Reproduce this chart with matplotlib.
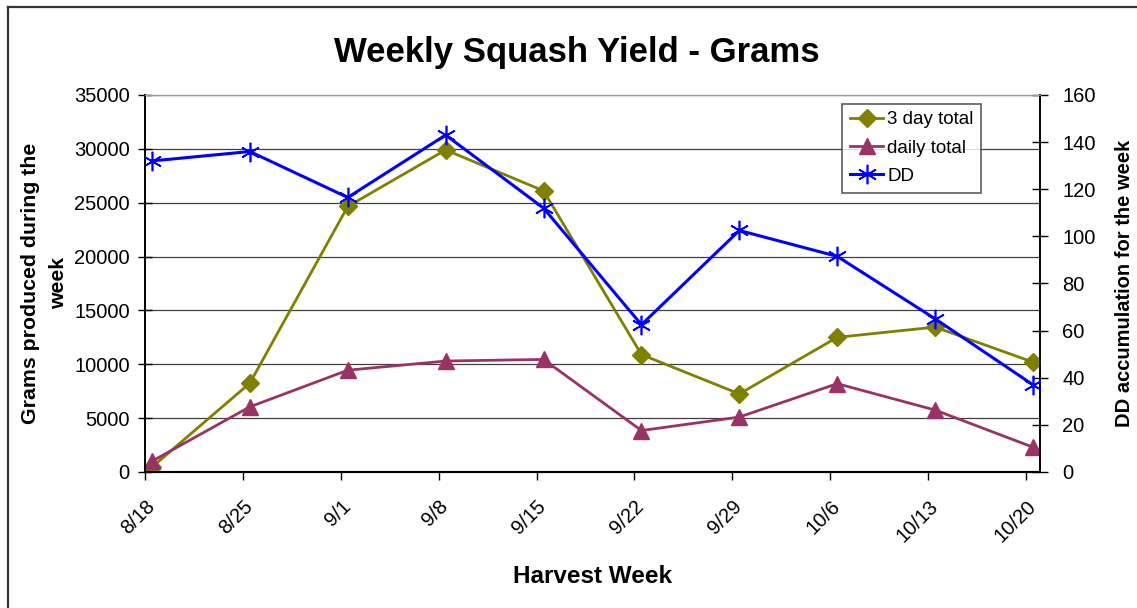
import matplotlib.pyplot as plt
from matplotlib.lines import Line2D

plt.rcParams['font.family'] = ['Liberation Sans', 'DejaVu Sans']

weeks = ["8/18", "8/25", "9/1", "9/8", "9/15", "9/22", "9/29", "10/6", "10/13", "10/20"]
three_day = [450, 8250, 24650, 29900, 26100, 10900, 7250, 12500, 13450, 10200]
daily = [1000, 6050, 9450, 10300, 10450, 3850, 5100, 8200, 5750, 2300]
dd = [132, 136, 116.5, 143, 112, 62.5, 102.5, 91.5, 65, 37]

# harvest days counted from 8/18, points sit half a day past the tick
days = [7 * i + 0.5 for i in range(len(weeks))]
tick_days = [7 * i for i in range(len(weeks))]

fig = plt.figure(figsize=(11.37, 6.08), dpi=100)
ax = fig.add_axes([0.1275, 0.2237, 0.7872, 0.6201])
ax2 = ax.twinx()

l1, = ax.plot(days, three_day, color='#808000', lw=2, marker='D', ms=9,
              label='3 day total', zorder=3)
l2, = ax.plot(days, daily, color='#993366', lw=2, marker='^', ms=11,
              label='daily total', zorder=3)
l3, = ax2.plot(days, dd, color='#0000FF', lw=2.2, marker=(6, 2, 0), ms=14,
               mew=1.2, label='DD', zorder=3)

ax.set_xlim(0, 64)
ax.set_ylim(0, 35000)
ax2.set_ylim(0, 160)
ax.set_yticks(range(0, 35001, 5000))
ax2.set_yticks(range(0, 161, 20))
ax.set_xticks(tick_days)
ax.set_xticklabels(weeks, rotation=45, ha='right', rotation_mode='anchor')

ax.yaxis.grid(True, color='#404040', lw=0.9)
ax.set_axisbelow(True)

for a in (ax, ax2):
    a.spines['top'].set_color('#999999')
    a.spines['left'].set_linewidth(1.2)
    a.spines['right'].set_linewidth(1.2)
    a.spines['bottom'].set_linewidth(1.5)

ax.tick_params(axis='y', direction='inout', length=10, width=1, labelsize=14.5, pad=6)
ax2.tick_params(axis='y', direction='inout', length=12, width=1, labelsize=14.5, pad=10)
ax.tick_params(axis='x', direction='out', length=6, width=1, labelsize=14.5, pad=12)

ax.set_title('Weekly Squash Yield - Grams', fontsize=25, fontweight='bold', pad=24, x=0.482)
ax.set_xlabel('Harvest Week', fontsize=17.5, fontweight='bold', labelpad=14)
ax.set_ylabel('Grams produced during the\nweek', fontsize=15.3, fontweight='bold',
              labelpad=4, linespacing=1.65)
ax2.set_ylabel('DD accumulation for the week', fontsize=14.5, fontweight='bold',
               labelpad=14)

leg = ax2.legend(handles=[l1, l2, l3], loc='upper left', bbox_to_anchor=(0.779, 0.977),
                 fontsize=13.5, frameon=True, fancybox=False, handlelength=1.8,
                 handletextpad=0.2, borderpad=0.4, labelspacing=0.6, borderaxespad=0)
leg.get_frame().set_edgecolor('#333333')
leg.get_frame().set_linewidth(1.2)

# chart-area border (top and left edges are visible)
fig.add_artist(Line2D([0.007, 1.0], [0.988, 0.988], transform=fig.transFigure,
                      color='#333333', lw=1.6))
fig.add_artist(Line2D([0.007, 0.007], [0.0, 0.988], transform=fig.transFigure,
                      color='#333333', lw=1.6))

fig.savefig('out.png', dpi=100)
